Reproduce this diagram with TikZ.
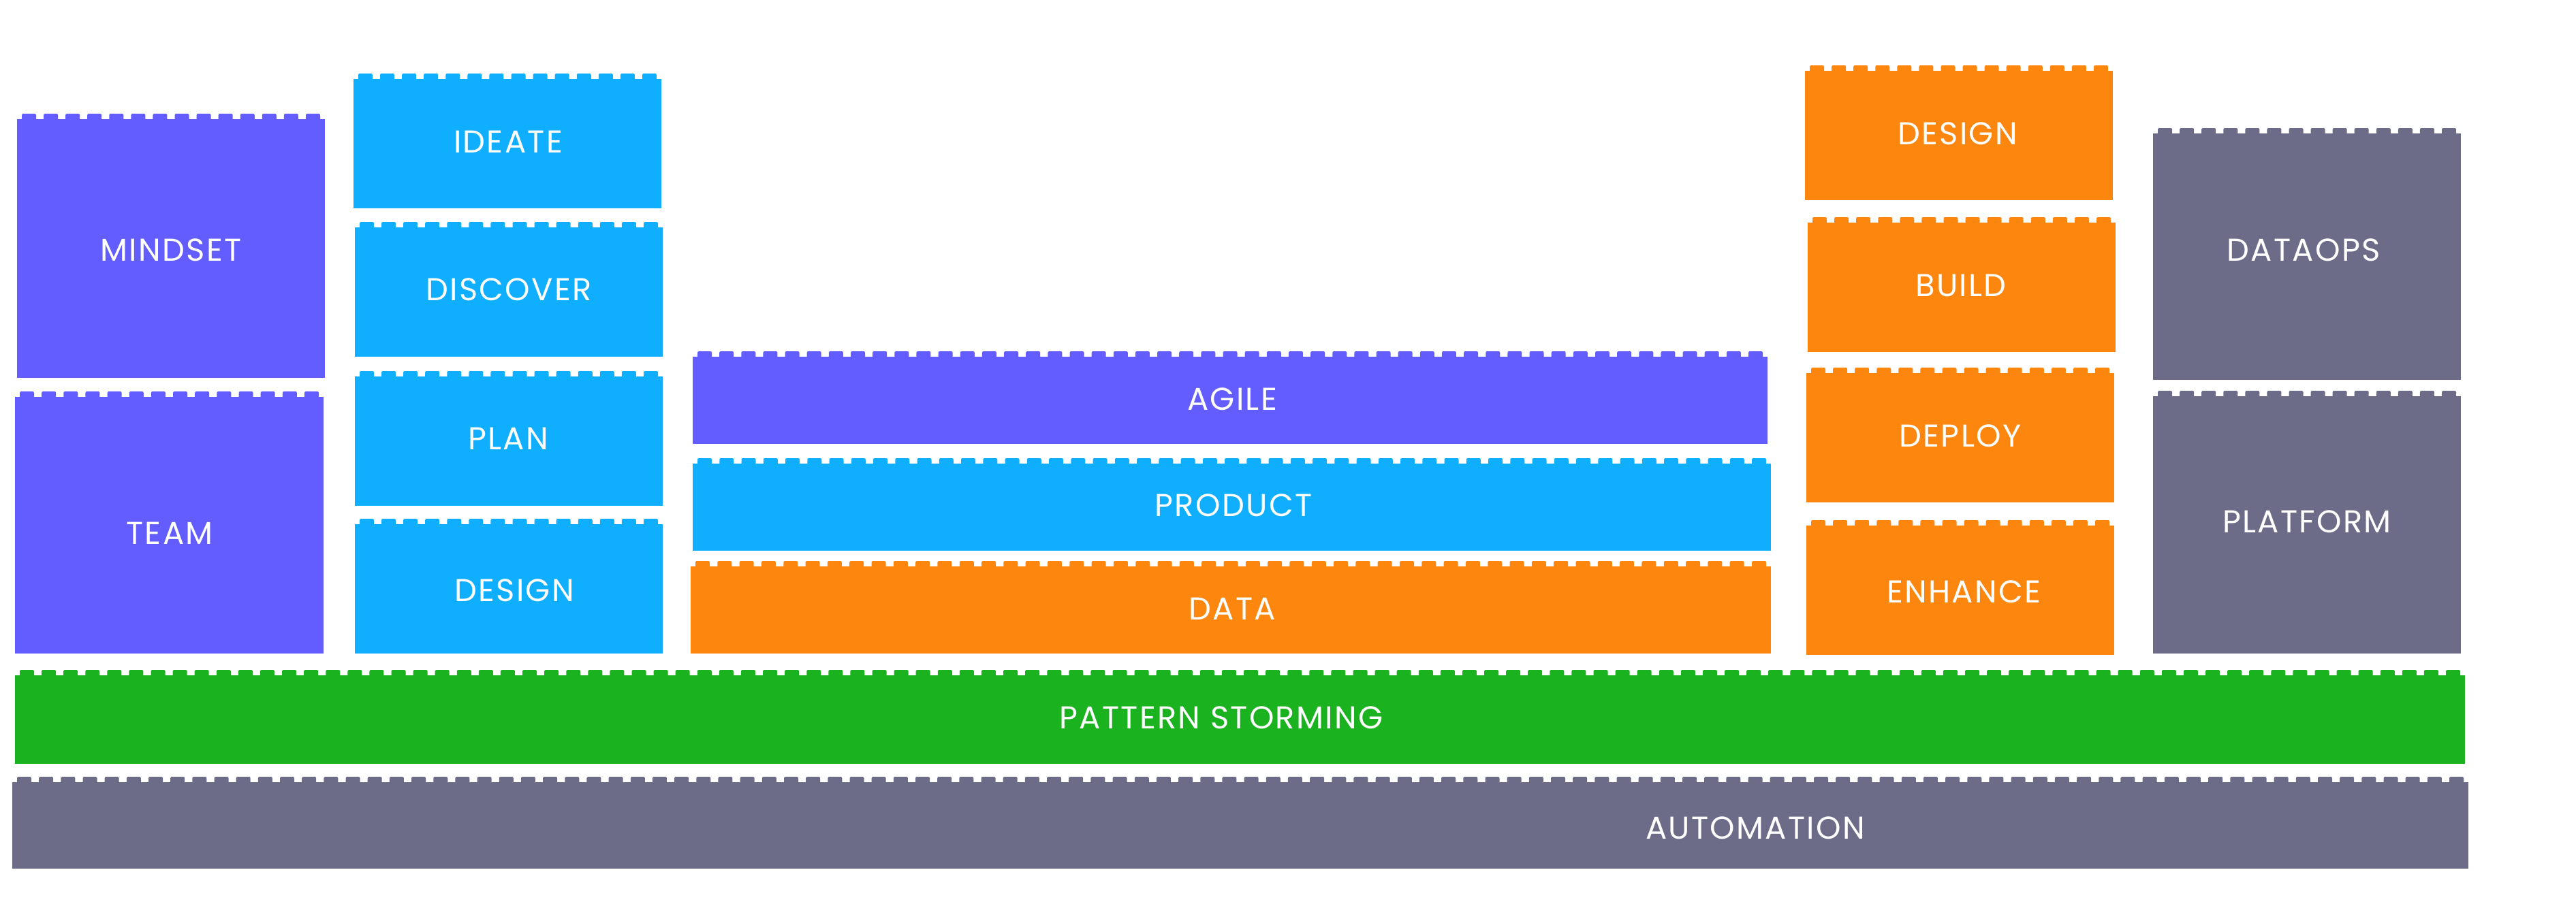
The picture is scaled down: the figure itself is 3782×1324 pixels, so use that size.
\documentclass[tikz,border=0pt]{standalone}
\usepackage{fontspec}
\setmainfont[LetterSpace=5]{Poppins}
\usepackage{tikz}
\definecolor{brickpurple}{HTML}{635CFF}
\definecolor{brickblue}{HTML}{0FAEFF}
\definecolor{brickorange}{HTML}{FD870E}
\definecolor{brickgreen}{HTML}{1BB21F}
\definecolor{brickgray}{HTML}{6C6C88}
\tikzset{brlabel/.style={text=white, inner sep=0pt, font=\fontsize{13.2}{15}\selectfont}}
% body from (x1,y1) to (x2,y2), studs along the top edge
\def\brick[#1](#2,#3)(#4,#5);{%
  \fill[#1] (#2,#3) rectangle (#4,#5);
  \pgfmathtruncatemacro\nstud{(#4-#2-3)/32}%
  \pgfmathsetmacro\pstud{(#4-#2-35)/(\nstud-1)}%
  \foreach \k in {1,...,\nstud}
    \fill[#1, rounded corners=0.6pt] ({#2+7+(\k-1)*\pstud},#3-8) rectangle ++(21,12);}

\begin{document}
\begin{tikzpicture}[x=0.01cm, y=-0.01cm]
			%%%%% START %%%%%
			\useasboundingbox (0,0) rectangle (3782,1324);
			
			\brick[brickpurple](25,175)(477,555);
			\node[brlabel] (mindset) at (251,367) {MINDSET};
			\brick[brickpurple](22,583)(475,960);
			\node[brlabel] (team) at (249,783) {TEAM};
			
			\brick[brickblue](519,116)(971,306);
			\node[brlabel] (ideate) at (746,208) {IDEATE};
			\brick[brickblue](521,334)(973,524);
			\node[brlabel] (discover) at (747,425) {DISCOVER};
			\brick[brickblue](521,553)(973,743);
			\node[brlabel] (plan) at (746,644) {PLAN};
			\brick[brickblue](521,770)(973,960);
			\node[brlabel] (designux) at (755,867) {DESIGN};
			
			\brick[brickpurple](1017,524)(2595,652);
			\node[brlabel] (agile) at (1809,586) {AGILE};
			\brick[brickblue](1017,681)(2600,809);
			\node[brlabel] (product) at (1811,742) {PRODUCT};
			\brick[brickorange](1014,832)(2600,960);
			\node[brlabel] (data) at (1809,894) {DATA};
			
			\brick[brickorange](2650,104)(3102,294);
			\node[brlabel] (designeng) at (2874,196) {DESIGN};
			\brick[brickorange](2654,327)(3106,517);
			\node[brlabel] (build) at (2879,419) {BUILD};
			\brick[brickorange](2652,548)(3104,738);
			\node[brlabel] (deploy) at (2878,640) {DEPLOY};
			\brick[brickorange](2652,772)(3104,962);
			\node[brlabel] (enhance) at (2883,869) {ENHANCE};
			
			\brick[brickgray](3161,196)(3613,558);
			\node[brlabel] (dataops) at (3382,367) {DATAOPS};
			\brick[brickgray](3161,582)(3613,960);
			\node[brlabel] (platform) at (3387,766) {PLATFORM};
			
			\brick[brickgreen](22,992)(3619,1122);
			\node[brlabel] (storming) at (1793,1054) {PATTERN STORMING};
			\brick[brickgray](18,1149)(3624,1276);
			\node[brlabel] (automation) at (2577,1216) {AUTOMATION};
			
			%%%%% END %%%%%
\end{tikzpicture}
\end{document}
